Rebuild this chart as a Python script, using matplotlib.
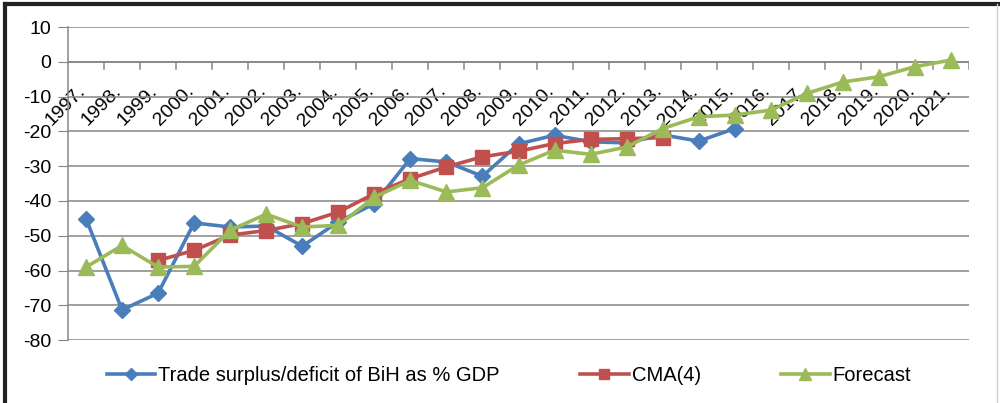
import numpy as np
import matplotlib
matplotlib.use('Agg')
import matplotlib.pyplot as plt
import matplotlib.transforms as mtransforms

plt.rcParams['font.family'] = ['Liberation Sans', 'DejaVu Sans']
plt.rcParams['axes.unicode_minus'] = False

# data
years = [str(y) + '.' for y in range(1997, 2022)]
trade = [-45.1, -71.3, -66.5, -46.3, -47.5, -47.2, -53.0, -46.0, -40.8, -27.8,
         -28.8, -32.9, -23.6, -21.1, -23.0, -23.3, -21.0, -22.8, -19.2]
cma = [-57.1, -54.2, -49.8, -48.5, -46.5, -43.2, -37.9, -33.6, -30.2, -27.3,
       -25.7, -23.5, -22.3, -22.1, -21.8]
forecast = [-59.0, -52.8, -59.0, -58.8, -48.4, -43.8, -47.5, -47.0, -38.9, -34.1,
            -37.4, -36.2, -29.7, -25.4, -26.6, -24.5, -19.2, -15.8, -15.3, -13.9,
            -9.1, -5.8, -4.3, -1.4, 0.5]

blue = '#4a7ebb'
red = '#c0504d'
green = '#9bbb59'
grid_c = '#868686'

fig = plt.figure(figsize=(10, 4.03), dpi=100)
ax = fig.add_axes([0.068, 0.156, 0.901, 0.777])

x = np.arange(len(years))
ax.plot(x[:len(trade)], trade, color=blue, lw=2.6, marker='D', ms=8,
        label='Trade surplus/deficit of BiH as % GDP', zorder=3)
ax.plot(x[2:2 + len(cma)], cma, color=red, lw=2.6, marker='s', ms=10,
        label='CMA(4)', zorder=4)
ax.plot(x, forecast, color=green, lw=2.6, marker='^', ms=11,
        label='Forecast', zorder=5)

ax.set_xlim(-0.5, len(years) - 0.5)
ax.set_ylim(-80, 10)
ax.set_yticks(range(-80, 11, 10))
ax.tick_params(axis='y', length=7, color=grid_c, labelsize=14, pad=5)
ax.grid(axis='y', color=grid_c, lw=1.1, zorder=0)

for s in ['top', 'right', 'bottom']:
    ax.spines[s].set_visible(False)
ax.spines['left'].set_color(grid_c)
ax.spines['left'].set_linewidth(1.1)

# category axis crosses at 0
ax.axhline(0, color=grid_c, lw=1.1, zorder=1)
for b in np.arange(0.5, len(years) - 0.4, 1.0):
    ax.plot([b, b], [0, -2.2], color=grid_c, lw=1.1, zorder=1)

ax.set_xticks(x)
ax.tick_params(axis='x', length=0)
labels = ax.set_xticklabels(years, rotation=45, ha='right', va='top', fontsize=14)
# move labels up to just below the zero line
offset = mtransforms.ScaledTranslation(0.03, 0, fig.dpi_scale_trans)
for lab in labels:
    lab.set_transform(ax.transData + offset)
    lab.set_y(-6.0)

leg = fig.legend(loc='center', bbox_to_anchor=(0.509, 0.068), ncol=3, frameon=False,
                 fontsize=14.5, handlelength=2.4, handletextpad=0.15, columnspacing=4.0,
                 markerscale=0.75)

# outer frame
fig.add_artist(plt.Line2D([0.005, 0.005], [0, 0.99], color='#222222', lw=3, transform=fig.transFigure))
fig.add_artist(plt.Line2D([0.005, 1.0], [0.99, 0.99], color='#222222', lw=3, transform=fig.transFigure))
fig.add_artist(plt.Line2D([0.997, 0.997], [0, 0.99], color='#d0d0d0', lw=1, transform=fig.transFigure))

fig.savefig('out.png', dpi=100)
